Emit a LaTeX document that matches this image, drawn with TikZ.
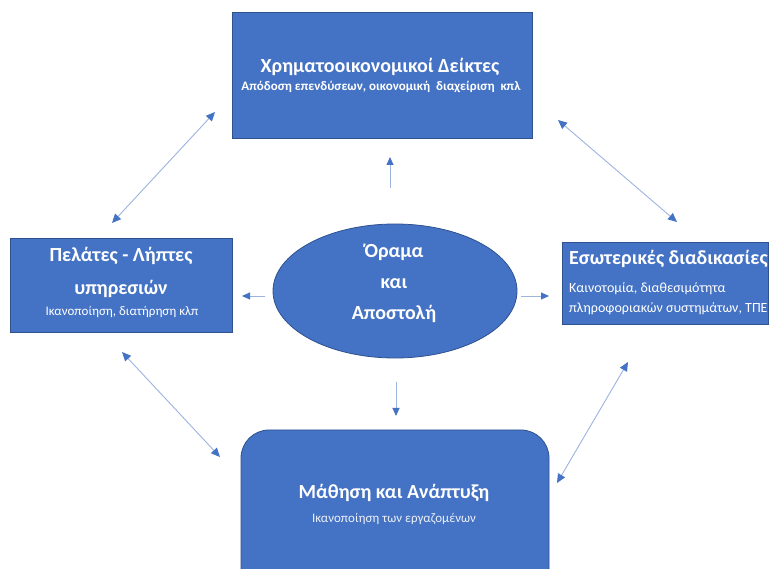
\documentclass[tikz,border=0pt]{standalone}
\usepackage{fontspec}
\setmainfont{Carlito}
\usetikzlibrary{arrows.meta,shapes.geometric}
\definecolor{boxfill}{HTML}{4472C4}
\definecolor{boxline}{HTML}{2F528F}
\definecolor{linkline}{HTML}{9DB3E0}
\definecolor{linkhead}{HTML}{4472C4}
\tikzset{
  panel/.style={fill=boxfill, draw=boxline, line width=0.8pt},
  txt/.style={text=white, inner sep=0pt, anchor=base},
  head/.style={font=\bfseries\fontsize{20}{22}\selectfont},
  sub/.style={font=\fontsize{13}{15}\selectfont},
  link/.style={draw=linkline, line width=0.9pt, -{Triangle[length=8pt,width=7pt,fill=linkhead,color=linkhead]}},
  dlink/.style={draw=linkline, line width=0.9pt, {Triangle[length=9pt,width=8pt,fill=linkhead,color=linkhead]}-{Triangle[length=9pt,width=8pt,fill=linkhead,color=linkhead]}}
}
\begin{document}
\begin{tikzpicture}[x=1pt,y=-1pt]
\useasboundingbox (0,0) rectangle (769,569);
\clip (0,0) rectangle (769,569);
\fill[white] (0,0) rectangle (769,569);

% boxes
\node[panel, minimum width=300pt, minimum height=126pt, inner sep=0pt] (fin) at (382,75) {};
\node[panel, minimum width=222pt, minimum height=94pt, inner sep=0pt] (cust) at (121,285) {};
\node[panel, minimum width=206pt, minimum height=82pt, inner sep=0pt] (proc) at (665,283) {};
\draw[panel, rounded corners=28pt] (241,430) rectangle (549,600);
\coordinate (learn) at (395,500);
\node[panel, ellipse, minimum width=244pt, minimum height=134pt, inner sep=0pt] (vision) at (395,291) {};

% box texts
\node[txt, head] (finT) at (380,73) {Χρηματοοικονομικοί Δείκτες};
\node[txt, font=\bfseries\fontsize{13}{15}\selectfont] (finS) at (381,91) {Απόδοση επενδύσεων, οικονομική\ \ διαχείριση\ \ κπλ};

\node[txt, head] (custT1) at (121,262) {Πελάτες - Λήπτες};
\node[txt, head] (custT2) at (121,295) {υπηρεσιών};
\node[txt, sub] (custS) at (122,316) {Ικανοποίηση, διατήρηση κλπ};

\node[txt, head, anchor=base west] (procT) at (569,265) {Εσωτερικές διαδικασίες};
\node[txt, font=\fontsize{14}{16}\selectfont, anchor=base west] (procS1) at (569,293) {Καινοτομία, διαθεσιμότητα};
\node[txt, font=\fontsize{14}{16}\selectfont, anchor=base west] (procS2) at (569,313) {πληροφοριακών συστημάτων, ΤΠΕ};

\node[txt, head] (learnT) at (394,498) {Μάθηση και Ανάπτυξη};
\node[txt, sub, text=white!90!boxfill] (learnS) at (394,522) {Ικανοποίηση των εργαζομένων};

\node[txt, head] (visT1) at (394,258) {Όραμα};
\node[txt, head] (visT2) at (394,289) {και};
\node[txt, head] (visT3) at (394,320) {Αποστολή};

% arrow end points
\coordinate (upA) at (390,188);   \coordinate (upB) at (390,157);
\coordinate (lfA) at (265,296);   \coordinate (lfB) at (242,296);
\coordinate (rtA) at (521,296);   \coordinate (rtB) at (549,296);
\coordinate (dnA) at (396,382);   \coordinate (dnB) at (396,416);

\coordinate (tlA) at (112,223);   \coordinate (tlB) at (215,112);
\coordinate (trA) at (558,120);   \coordinate (trB) at (677,222);
\coordinate (blA) at (122,352);   \coordinate (blB) at (220,457);
\coordinate (brA) at (628,362);   \coordinate (brB) at (557,483);

% single arrows from the centre
\draw[link] (upA) -- (upB);
\draw[link] (lfA) -- (lfB);
\draw[link] (rtA) -- (rtB);
\draw[link] (dnA) -- (dnB);

% double arrows between the perspectives
\draw[dlink] (tlA) -- (tlB);
\draw[dlink] (trA) -- (trB);
\draw[dlink] (blA) -- (blB);
\draw[dlink] (brA) -- (brB);
\end{tikzpicture}
\end{document}
